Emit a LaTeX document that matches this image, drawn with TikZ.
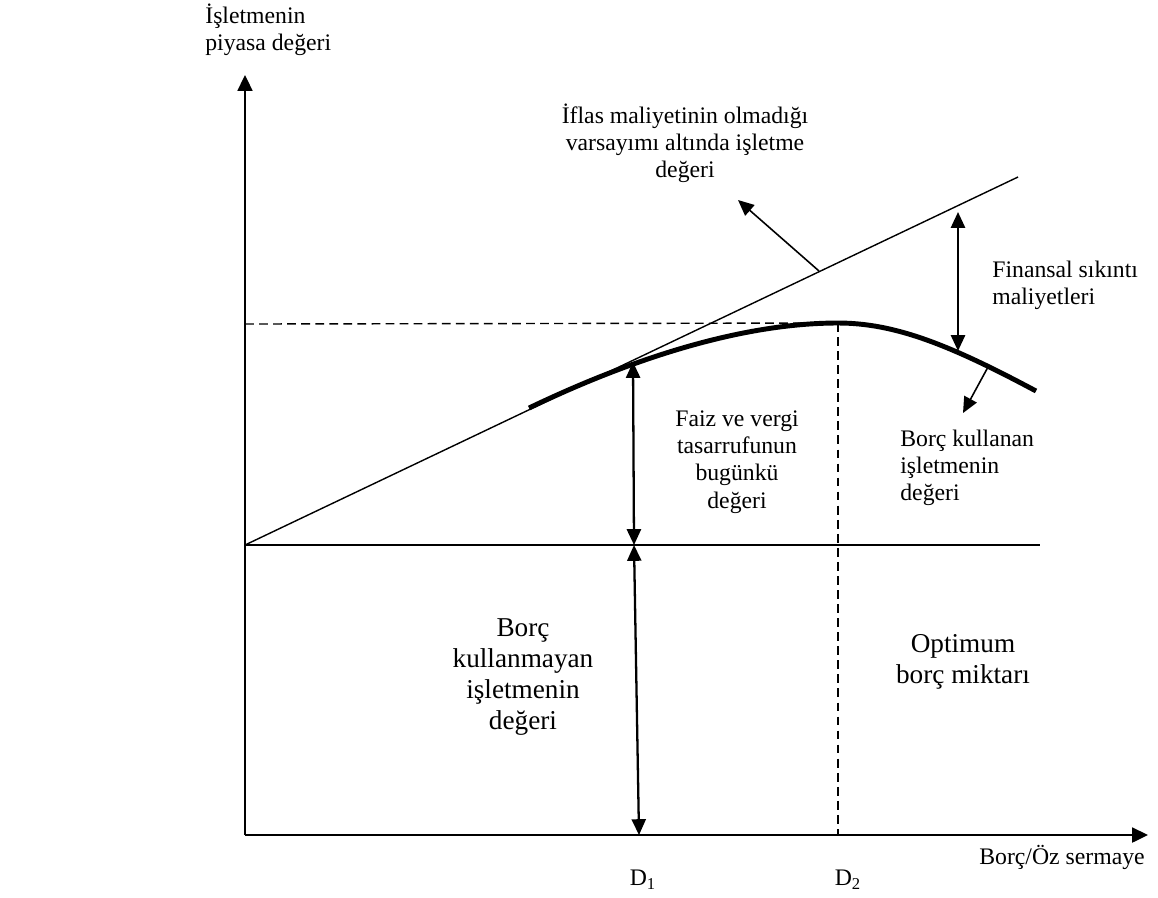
\documentclass[tikz,border=0pt]{standalone}
\usepackage{fontspec}
\setmainfont{Liberation Serif}
\usetikzlibrary{arrows.meta,positioning}
\tikzset{
  axis/.style={line width=1.1pt, -{Triangle[length=9pt,width=8.5pt]}},
  guide/.style={line width=0.8pt},
  dashline/.style={line width=0.8pt, dash pattern=on 5pt off 3pt},
  valcurve/.style={line width=2.8pt},
  span/.style={line width=1.3pt, {Triangle[length=9pt,width=8pt]}-{Triangle[length=9pt,width=8pt]}},
  pointer/.style={line width=0.9pt, -{Triangle[length=9pt,width=8pt]}},
  lbl/.style={font=\fontsize{13.5}{15.5}\selectfont, inner sep=0pt},
  biglbl/.style={font=\fontsize{15.5}{17.5}\selectfont, inner sep=0pt, align=center},
}

\begin{document}
\begin{tikzpicture}[x=0.02cm, y=-0.02cm]
  \useasboundingbox (0,0) rectangle (1158,897);
  % axes
  \coordinate (O) at (245,835);
  \coordinate (ytop) at (245,75);
  \coordinate (xend) at (1148,835);
  \draw[axis] (O) -- (ytop);
  \draw[axis] (O) -- (xend);
  % unlevered value and value without bankruptcy cost
  \coordinate (V0) at (245,545);
  \coordinate (hend) at (1040,545);
  \coordinate (lend) at (1018,177);
  \draw[guide] (V0) -- (hend);
  \draw[guide] (V0) -- (lend);
  % levered value curve
  \coordinate (c0) at (529,408);
  \coordinate (peak) at (838,323);
  \coordinate (cend) at (1036,391);
  \draw[valcurve] (c0) .. controls (629,360) and (740,323) .. (peak)
                       .. controls (895,323) and (950,345) .. (cend);
  % dashed guides
  \coordinate (ypk) at (245,324);
  \coordinate (d2) at (838,835);
  \draw[dashline] (ypk) -- (peak);
  \draw[dashline] (peak) -- (d2);
  % spans
  \coordinate (d1top) at (633,362);
  \coordinate (d1mid) at (634,545);
  \coordinate (d1bot) at (639,835);
  \draw[span] (d1top) -- (d1mid);
  \draw[span] (d1mid) -- (d1bot);
  \coordinate (fsup) at (958,212);
  \coordinate (fslow) at (958,351);
  \draw[span] (fsup) -- (fslow);
  % pointers
  \coordinate (p1) at (819,271);
  \coordinate (p1tip) at (738,200);
  \draw[pointer] (p1) -- (p1tip);
  \coordinate (p2) at (988,367);
  \coordinate (p2tip) at (963,413);
  \draw[pointer] (p2) -- (p2tip);
  % labels
  \node[lbl, align=left, anchor=west] (ylab) at (205,30) {İşletmenin\\piyasa değeri};
  \node[lbl, align=center] (iflas) at (685,143) {İflas maliyetinin olmadığı\\varsayımı altında işletme\\değeri};
  \node[lbl, align=left, anchor=west] (fsk) at (992,285) {Finansal sıkıntı\\maliyetleri};
  \node[lbl, align=center] (faiz) at (737,462) {Faiz ve vergi\\tasarrufunun\\bugünkü\\değeri};
  \node[lbl, align=left, anchor=west] (levered) at (900,468) {Borç kullanan\\işletmenin\\değeri};
  \node[biglbl] (unlev) at (523,677) {Borç\\kullanmayan\\işletmenin\\değeri};
  \node[biglbl] (opt) at (963,662) {Optimum\\borç miktarı};
  \node[lbl] (D1) at (643,880) {D\textsubscript{1}};
  \node[lbl] (D2) at (848,880) {D\textsubscript{2}};
  \node[lbl] (xlab) at (1062,857) {Borç/Öz sermaye};
\end{tikzpicture}
\end{document}
